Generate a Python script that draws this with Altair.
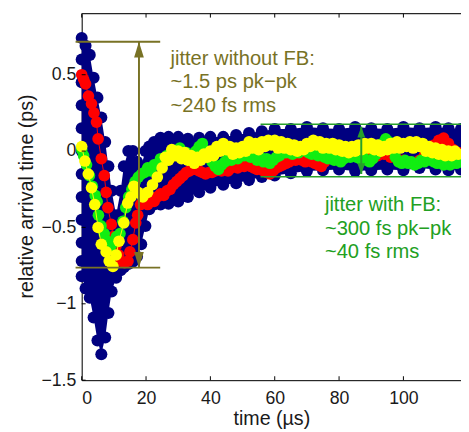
import altair as alt
import pandas as pd

# ---------------- data ----------------
# navy cloud: envelope of all shots (centres of the outermost markers)
navy_x = [0, 1.2, 2.5, 3.7, 4.9, 6.1, 7.3, 8.3, 9.3, 10.7, 12.1, 13.1, 14.5, 15.9, 17.2, 18.5,
          19.8, 21.0, 22.5, 24.5, 27, 30, 33, 36.5, 40, 44, 48, 52, 56, 60, 65, 70, 75, 80,
          85, 90, 95, 100, 105, 110, 114, 117.9]
navy_top = [0.74, 0.69, 0.63, 0.48, 0.35, 0.22, 0.06, -0.10, -0.26, -0.42, -0.26, -0.10, 0.0, 0.0,
            -0.07, -0.10, 0.0, 0.03, 0.06, 0.087, 0.093, 0.093, 0.08, 0.087, 0.093, 0.093, 0.106,
            0.118, 0.13, 0.144, 0.144, 0.157, 0.15, 0.144, 0.157, 0.15, 0.144, 0.157, 0.15, 0.157,
            0.15, 0.144]
navy_bot = [-0.82, -0.90, -0.96, -1.09, -1.24, -1.33, -1.22, -1.06, -0.92, -0.83, -0.78, -0.76,
            -0.74, -0.725, -0.69, -0.61, -0.49, -0.38, -0.35, -0.35, -0.345, -0.33, -0.30, -0.27,
            -0.24, -0.22, -0.21, -0.19, -0.17, -0.16, -0.145, -0.13, -0.125, -0.12, -0.13, -0.125,
            -0.12, -0.125, -0.11, -0.12, -0.125, -0.12]
navy_left_y = [0.6, 0.45, 0.3, 0.15, 0.0, -0.15, -0.3, -0.45, -0.6, -0.72]

red_x = [0, 0.6, 1.2, 2.1, 3.05, 3.8, 4.6, 5.1, 6.1, 7.0, 7.6, 8.15, 9.2, 9.8, 10.7, 11.5, 12.2,
         13.3, 14.4, 15.0, 15.9, 16.8, 17.4, 18.3, 19.5, 20.5, 21.5, 22.5, 23.5, 24.5, 25.5, 26.5,
         27.5, 28.5, 29.5, 30.5, 31.5, 32.5, 33.5, 34.5, 35.5, 36.5, 37.5, 38.5, 39.5, 40.5, 41.5,
         42.5, 43.5, 44.5, 45.5, 46.5, 47.5, 48.5, 49.5, 50.5, 51.5, 52.5, 53.5, 54.5, 55.5, 56.5,
         57.5, 58.5, 59.5, 60.5, 61.5, 62.5, 63.5, 64.5, 65.5, 66.5, 67.5, 68.5, 69.5, 70.5, 71.5,
         72.5, 73.5, 74.5, 75.5, 76.5, 77.5, 78.5, 80, 82, 84, 86, 88, 90, 92, 94, 96, 98, 100,
         102, 103.5, 105, 106.5, 108, 109.5, 111, 112.5, 114, 115.5, 117]
red_y = [0.5, 0.47, 0.44, 0.36, 0.31, 0.25, 0.19, 0.08, -0.05, -0.16, -0.27, -0.37, -0.48, -0.56,
         -0.62, -0.68, -0.72, -0.73, -0.72, -0.66, -0.58, -0.47, -0.42, -0.35, -0.33, -0.35, -0.31,
         -0.33, -0.3, -0.28, -0.29, -0.26, -0.25, -0.22, -0.2, -0.18, -0.16, -0.14, -0.13, -0.12,
         -0.12, -0.13, -0.14, -0.15, -0.14, -0.14, -0.13, -0.12, -0.13, -0.12, -0.13, -0.11, -0.1,
         -0.11, -0.09, -0.1, -0.09, -0.1, -0.11, -0.12, -0.11, -0.13, -0.14, -0.15, -0.13, -0.11,
         -0.1, -0.09, -0.08, -0.07, -0.05, -0.06, -0.05, -0.06, -0.07, -0.06, -0.07, -0.08, -0.09,
         -0.1, -0.07, -0.05, -0.04, -0.03, -0.03, -0.02, -0.03, -0.04, -0.04, -0.03, -0.03, -0.02,
         -0.04, -0.05, -0.06, -0.07, -0.08, -0.06, -0.03, 0.0, 0.04, 0.07, 0.085, 0.05, 0.01, -0.01]

green_x = [0, 0.6, 1.5, 2.4, 3.3, 4.2, 4.8, 5.2, 6.0, 7.0, 8.0, 8.9, 9.9, 10.8, 11.9, 12.8, 13.7,
           14.6, 15.6, 16.6, 17.6, 18.6, 19.5, 20.5, 21.5, 22.5, 23.5, 24.5, 25.5, 26.5, 27.5,
           28.5, 29.5, 30.5, 31.5, 32.5, 33.5, 34.5, 35.5, 36.5, 37.5, 38.5, 39.5, 40.5, 41.5,
           42.5, 43.5, 44.5, 45.5, 46.5, 47.5, 48.5, 49.5, 50.5, 51.5, 52.5, 53.5, 54.5, 55.5,
           56.5, 57.5, 58.5, 59.5, 60.5, 61.5, 62.5, 63.5, 64.5, 65.5, 66.5, 67.5, 68.5, 69.5,
           70.5, 71.5, 72.5, 73.5, 74.5, 75.5, 76.5, 77.5, 78.5, 79.5, 80.5, 81.5, 82.5, 83.5,
           84.5, 85.5, 86.5, 87.5, 88.5, 89.5, 90.5, 91.5, 92.5, 93.5, 94.5, 95.5, 96.5, 97.5,
           98.5, 99.5, 100.5, 101.5, 102.5, 103.5, 104.5, 105.5, 106.5, 107.5, 108.5, 109.5,
           110.5, 111.5, 112.5, 113.5, 114.5, 115.5, 116.5, 117.5]
green_y = [0.01, -0.03, -0.09, -0.16, -0.23, -0.29, -0.33, -0.42, -0.49, -0.54, -0.59, -0.63, -0.6,
           -0.56, -0.54, -0.46, -0.37, -0.3, -0.25, -0.2, -0.17, -0.15, -0.14, -0.11, -0.13, -0.09,
           -0.085, -0.05, -0.07, -0.03, -0.04, 0.0, -0.02, 0.02, -0.04, -0.01, -0.06, -0.03, 0.0,
           0.03, 0.05, 0.0, -0.04, -0.07, -0.1, -0.12, -0.09, -0.07, -0.05, -0.06, -0.03, -0.05,
           -0.02, -0.03, -0.01, -0.04, -0.03, -0.06, -0.04, -0.07, -0.05, -0.08, -0.06, -0.04,
           -0.03, 0.0, -0.01, 0.01, -0.02, 0.0, -0.01, 0.02, 0.01, -0.01, -0.02, -0.01, -0.03,
           -0.02, -0.04, -0.05, -0.04, -0.06, -0.05, -0.07, -0.05, -0.03, -0.04, -0.02, -0.04,
           -0.05, -0.04, -0.06, -0.07, -0.05, -0.02, 0.02, 0.05, 0.08, 0.06, 0.01, -0.04, -0.07,
           -0.08, -0.06, -0.08, -0.07, -0.09, -0.08, -0.06, -0.07, -0.05, -0.06, -0.07, -0.08,
           -0.07, -0.09, -0.08, -0.09, -0.07, -0.08, -0.07]

yellow_x = [0, 1.0, 2.05, 3.05, 4.06, 5.1, 6.1, 7.6, 8.55, 9.7, 10.7, 11.6, 13.1, 14.3, 15.3, 16.2,
            17.5, 19.0, 20.5, 22.0, 23.5, 25, 26, 27, 28, 29, 30, 31, 32, 33, 34, 35, 36, 37, 38,
            39, 40, 41, 42, 43, 44, 45, 46, 47, 48, 49, 50, 51, 52, 53, 54, 55, 56, 57, 58, 59, 60,
            61, 62, 63, 64, 65, 66, 67, 68, 69, 70, 71, 72, 73, 74, 75, 76, 77, 78, 79, 80, 81, 82,
            83, 84, 85, 86, 87, 88, 89, 90, 91, 92, 93, 94, 95, 96, 97, 98, 99, 100, 101, 102, 103,
            104, 105, 106, 107, 108, 109, 110, 111, 112, 113, 114, 115, 116, 117]
yellow_y = [0.03, -0.065, -0.15, -0.24, -0.35, -0.5, -0.61, -0.66, -0.72, -0.755, -0.68, -0.59,
            -0.47, -0.34, -0.3, -0.23, -0.27, -0.3, -0.27, -0.22, -0.17, -0.11, -0.04, -0.06, 0.01,
            -0.03, 0.0, -0.05, -0.01, -0.06, -0.03, -0.08, -0.04, -0.06, -0.02, -0.04, 0.0, -0.03,
            0.03, 0.0, 0.05, 0.01, 0.03, -0.02, 0.02, -0.01, 0.03, 0.0, 0.06, 0.02, 0.05, 0.01,
            0.06, 0.03, 0.07, 0.04, 0.07, 0.02, 0.06, 0.02, 0.05, 0.01, 0.04, 0.0, 0.03, 0.01,
            0.05, 0.03, 0.07, 0.04, 0.06, 0.02, 0.05, 0.02, 0.05, 0.01, 0.04, 0.0, 0.03, -0.01,
            0.03, 0.0, 0.04, 0.01, 0.05, 0.02, 0.05, 0.01, 0.04, 0.0, 0.03, 0.01, 0.05, 0.02, 0.06,
            0.02, 0.05, 0.03, 0.06, 0.02, 0.06, 0.03, 0.05, 0.0, 0.03, -0.01, 0.02, -0.02, 0.01,
            -0.03, 0.0, -0.03, 0.0, -0.02]

# annotations
olive_span = [-1.9, 24.4]
olive_levels = [0.716, -0.763]
olive_arrow_x = 17.8
olive_text = ["jitter without FB:", "~1.5 ps pk\u2212pk", "~240 fs rms"]
olive_text_pos = (27.6, 0.566)

green_span = [55.6, 117.9]
green_levels = [0.176, -0.168]
green_arrow_x = 86.9
green_tips = [0.16, -0.15]
green_text = ["jitter with FB:", "~300 fs pk\u2212pk", "~40 fs rms"]
green_text_pos = (75.6, -0.393)

x_ticks = [0, 20, 40, 60, 80, 100]
y_ticks = [-1.5, -1, -0.5, 0, 0.5]

# ---------------- styling ----------------
W, H = 386, 373
X_MAX = 117.9
FONT = "Liberation Sans"
NAVY = "#000080"
RED = "#ff0000"
GREEN = "#11ee11"
YELLOW = "#ffff00"
OLIVE = "#787225"
DKGREEN = "#27a02a"
TXT_GREEN = "#22a022"

xs = alt.Scale(domain=[0, X_MAX], nice=False, zero=False)
ys = alt.Scale(domain=[-1.5, 0.9], nice=False, zero=False)

XAX = alt.Axis(values=x_ticks, format="d", ticks=False, tickSize=0, grid=False,
               domainColor="#000000", domainWidth=1, labelFontSize=18,
               labelColor="#1a1a1a", labelPadding=10, labelFont=FONT,
               titleFont=FONT, titleFontSize=20, titleFontWeight="normal",
               titleColor="#1a1a1a", titleY=39, titleBaseline="middle")
YAX = alt.Axis(values=y_ticks, format="~g", ticks=False, tickSize=0, grid=False,
               domainColor="#000000", domainWidth=1, labelFontSize=18,
               labelColor="#1a1a1a", labelPadding=6, labelFont=FONT,
               titleFont=FONT, titleFontSize=20, titleFontWeight="normal",
               titleColor="#1a1a1a", titleX=-56, titleY=H / 2 - 1,
               titleBaseline="middle")
XT = "time (\u00b5s)"
YT = "relative arrival time (ps)"


def X(f):
    return alt.X(f, type="quantitative", scale=xs, axis=XAX, title=XT)


def Y(f):
    return alt.Y(f, type="quantitative", scale=ys, axis=YAX, title=YT)


navy_df = pd.DataFrame({"x": navy_x, "top": navy_top, "bot": navy_bot})
navy_pts = pd.concat([
    pd.DataFrame({"x": navy_x, "y": navy_top}),
    pd.DataFrame({"x": navy_x, "y": navy_bot}),
    pd.DataFrame({"x": [0.0] * len(navy_left_y), "y": navy_left_y}),
])

area = alt.Chart(navy_df).mark_area(color=NAVY, opacity=1).encode(
    x=X("x"), y=Y("top"), y2="bot")

navy_dots = alt.Chart(navy_pts).mark_circle(color=NAVY, opacity=1, size=150).encode(
    x=X("x"), y=Y("y"))


def series(xv, yv, color):
    df = pd.DataFrame({"x": xv, "y": yv})
    line = alt.Chart(df).mark_line(color=color, strokeWidth=1).encode(x=X("x"), y=Y("y"))
    pts = alt.Chart(df).mark_circle(color=color, opacity=1, size=140).encode(x=X("x"), y=Y("y"))
    return line + pts


red = series(red_x, red_y, RED)
green = series(green_x, green_y, GREEN)
yellow = series(yellow_x, yellow_y, YELLOW)

# olive annotation
olive_h = alt.Chart(pd.DataFrame({"y": olive_levels, "x1": olive_span[0], "x2": olive_span[1]})
                    ).mark_rule(color=OLIVE, strokeWidth=2).encode(x=X("x1"), x2="x2", y=Y("y"))
olive_shaft = alt.Chart(pd.DataFrame({"x": [olive_arrow_x], "y1": [olive_levels[0]],
                                      "y2": [olive_levels[1]]})
                        ).mark_rule(color=OLIVE, strokeWidth=2).encode(x=X("x"), y=Y("y1"), y2="y2")
UP = "M0,-1L0.62,1L-0.62,1Z"
DOWN = "M0,1L0.62,-1L-0.62,-1Z"
olive_up = alt.Chart(pd.DataFrame({"x": [olive_arrow_x], "y": [olive_levels[0]]})).mark_point(
    shape=UP, filled=True, color=OLIVE, opacity=1, size=256, yOffset=8).encode(x=X("x"), y=Y("y"))
olive_down = alt.Chart(pd.DataFrame({"x": [olive_arrow_x], "y": [olive_levels[1]]})).mark_point(
    shape=DOWN, filled=True, color=OLIVE, opacity=1, size=256, yOffset=-8).encode(x=X("x"), y=Y("y"))
olive_txt = alt.Chart(pd.DataFrame({"x": [olive_text_pos[0]], "y": [olive_text_pos[1]]})).mark_text(
    align="left", baseline="alphabetic", font=FONT, fontSize=20.5, color=OLIVE, lineHeight=24
).encode(x=X("x"), y=Y("y"), text=alt.value(olive_text))

# green annotation
green_h = alt.Chart(pd.DataFrame({"y": green_levels, "x1": green_span[0], "x2": green_span[1]})
                    ).mark_rule(color=DKGREEN, strokeWidth=1.5).encode(x=X("x1"), x2="x2", y=Y("y"))
green_shaft = alt.Chart(pd.DataFrame({"x": [green_arrow_x], "y1": [green_tips[0]],
                                      "y2": [green_tips[1]]})
                        ).mark_rule(color=DKGREEN, strokeWidth=2).encode(x=X("x"), y=Y("y1"), y2="y2")
green_up = alt.Chart(pd.DataFrame({"x": [green_arrow_x], "y": [green_tips[0]]})).mark_point(
    shape="M0,-1L0.72,1L-0.72,1Z", filled=True, color=DKGREEN, opacity=1, size=121, yOffset=5.5
).encode(x=X("x"), y=Y("y"))
green_down = alt.Chart(pd.DataFrame({"x": [green_arrow_x], "y": [green_tips[1]]})).mark_point(
    shape="M0,1L0.72,-1L-0.72,-1Z", filled=True, color=DKGREEN, opacity=1, size=121, yOffset=-5.5
).encode(x=X("x"), y=Y("y"))
green_txt = alt.Chart(pd.DataFrame({"x": [green_text_pos[0]], "y": [green_text_pos[1]]})).mark_text(
    align="left", baseline="alphabetic", font=FONT, fontSize=20.5, color=TXT_GREEN, lineHeight=24
).encode(x=X("x"), y=Y("y"), text=alt.value(green_text))

# frame: inward ticks and top border
xt = pd.DataFrame({"v": x_ticks})
yt = pd.DataFrame({"v": y_ticks})
bot_ticks = alt.Chart(xt).mark_rule(color="#000000").encode(
    x=X("v"), y=alt.value(H), y2=alt.value(H - 4))
top_ticks = alt.Chart(xt).mark_rule(color="#000000").encode(
    x=X("v"), y=alt.value(0), y2=alt.value(4))
left_ticks = alt.Chart(yt).mark_rule(color="#000000").encode(
    y=Y("v"), x=alt.value(0), x2=alt.value(4))
top_border = alt.Chart(pd.DataFrame({"a": [0]})).mark_rule(color="#000000", strokeWidth=1).encode(
    x=alt.value(0), x2=alt.value(W), y=alt.value(0))

chart = alt.layer(
    area, navy_dots, red, green, yellow,
    olive_h, olive_shaft, olive_up, olive_down, olive_txt,
    green_h, green_shaft, green_up, green_down, green_txt,
    bot_ticks, top_ticks, left_ticks, top_border,
).properties(
    width=W, height=H,
    autosize=alt.AutoSizeParams(type="none"),
    padding={"left": 75, "top": 2, "right": 0, "bottom": 49},
).configure_view(stroke=None).configure(font=FONT, background="#ffffff")

chart.save("out.html", embed_options={"renderer": "svg", "actions": False})
